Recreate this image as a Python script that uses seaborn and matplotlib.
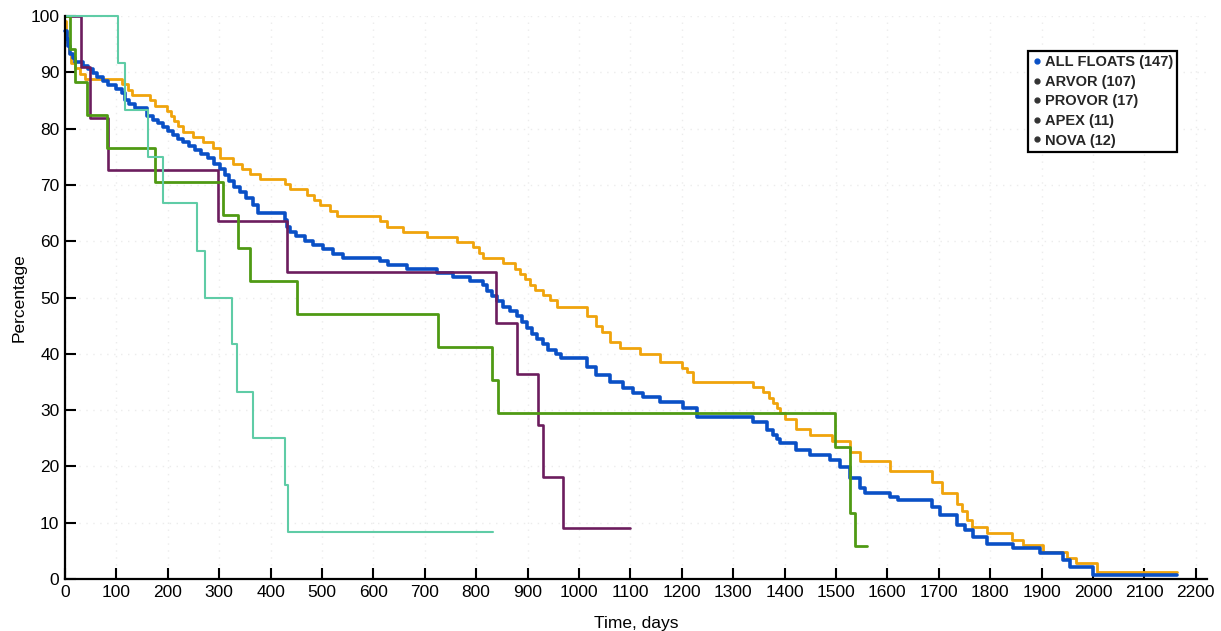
import numpy as np
import pandas as pd
import matplotlib
matplotlib.use("Agg")
import matplotlib.pyplot as plt
import seaborn as sns
from matplotlib.lines import Line2D

sns.set_theme(style="white")
plt.rcParams['font.family'] = ['Liberation Sans', 'DejaVu Sans']

# ---------------- data ----------------
all_days = [0, 3, 6, 10, 15, 20, 35, 45, 55, 62, 74, 84, 100, 110, 117, 125, 136, 159, 171, 180,
            190, 200, 210, 220, 230, 242, 252, 265, 278, 290, 301, 311, 320, 328, 340, 353, 366, 376,
            428, 432, 438, 450, 467, 483, 502, 522, 540, 613, 628, 665, 723, 755, 788, 814, 822, 830,
            840, 852, 866, 879, 890, 898, 908, 918, 930, 940, 955, 965, 1015, 1034, 1060, 1086, 1105,
            1125, 1158, 1203, 1229, 1339, 1365, 1378, 1385, 1391, 1423, 1449, 1488, 1508, 1527, 1547,
            1556, 1605, 1621, 1686, 1702, 1735, 1751, 1767, 1793, 1845, 1897, 1942, 1955, 2000, 2163]
all_pct = [97.3, 95.9, 94.6, 93.2, 92.5, 91.8, 91.2, 90.5, 89.8, 89.1, 88.4, 87.8, 87.1, 86.4, 85.0,
           84.4, 83.7, 82.3, 81.6, 81.0, 80.3, 79.6, 78.9, 78.2, 77.6, 76.9, 76.2, 75.5, 74.8, 73.8,
           72.9, 71.8, 70.7, 69.7, 68.7, 67.6, 66.4, 65.0, 63.8, 62.6, 61.7, 60.9, 60.1, 59.4, 58.6,
           57.8, 57.1, 56.5, 55.8, 55.1, 54.4, 53.7, 52.9, 52.2, 51.2, 50.3, 49.3, 48.4, 47.6, 46.7,
           45.6, 44.6, 43.6, 42.6, 41.7, 40.7, 39.9, 39.2, 37.7, 36.2, 35.0, 33.9, 33.0, 32.4, 31.5,
           30.3, 28.8, 27.9, 26.5, 25.6, 24.8, 24.1, 22.9, 22.0, 21.1, 19.9, 17.9, 16.1, 15.2, 14.6,
           14.0, 12.8, 11.4, 9.6, 8.7, 7.5, 6.3, 5.5, 4.6, 3.4, 2.2, 0.7, 0.7]

arvor_days = [0, 2, 4, 7, 12, 20, 30, 38, 110, 122, 130, 165, 175, 198, 207, 213, 220, 230, 249, 269,
              288, 301, 327, 345, 360, 380, 428, 438, 470, 484, 496, 516, 529, 613, 626, 658, 704, 762,
              794, 805, 814, 853, 875, 885, 895, 905, 915, 930, 943, 958, 1015, 1034, 1045, 1060, 1080,
              1119, 1158, 1200, 1210, 1222, 1339, 1358, 1370, 1378, 1385, 1391, 1400, 1423, 1449, 1492,
              1527, 1547, 1605, 1686, 1706, 1735, 1745, 1755, 1765, 1793, 1842, 1864, 1903, 1949, 1968,
              2007, 2163]
arvor_pct = [99.1, 97.2, 95.3, 93.5, 91.6, 90.7, 89.7, 88.8, 87.9, 86.9, 86.0, 85.0, 84.1, 83.2, 82.2,
             81.3, 80.4, 79.4, 78.5, 77.6, 76.6, 74.8, 73.8, 72.9, 72.0, 71.0, 70.1, 69.2, 68.2, 67.3,
             66.4, 65.4, 64.5, 63.6, 62.6, 61.7, 60.7, 59.8, 58.9, 57.9, 57.0, 56.1, 55.1, 54.2, 53.3,
             52.3, 51.4, 50.5, 49.5, 48.3, 46.7, 44.9, 43.9, 42.1, 41.1, 40.0, 38.6, 37.4, 36.8, 35.0,
             34.1, 33.2, 32.2, 31.3, 30.4, 29.4, 28.5, 26.6, 25.5, 24.5, 22.6, 21.0, 19.2, 17.2, 15.3,
             13.4, 12.0, 10.5, 9.3, 8.1, 6.9, 6.0, 4.8, 3.7, 2.8, 1.3, 1.3]

provor_days = [0, 10, 19, 43, 82, 175, 308, 337, 360, 451, 726, 830, 842, 1498, 1527, 1537, 1560]
provor_pct = [100, 94.1, 88.2, 82.4, 76.5, 70.6, 64.7, 58.8, 52.9, 47.1, 41.2, 35.3, 29.4, 23.5,
              11.8, 5.9, 5.9]

apex_days = [0, 31, 48, 84, 298, 432, 839, 879, 920, 930, 969, 1099]
apex_pct = [100, 90.9, 81.8, 72.7, 63.6, 54.5, 45.5, 36.4, 27.3, 18.2, 9.1, 9.1]

nova_days = [0, 103, 117, 162, 191, 256, 272, 325, 335, 366, 428, 434, 833]
nova_pct = [100, 91.7, 83.3, 75.0, 66.7, 58.3, 50.0, 41.7, 33.3, 25.0, 16.7, 8.3, 8.3]

legend_labels = ["ALL FLOATS (147)", "ARVOR (107)", "PROVOR (17)", "APEX (11)", "NOVA (12)"]
x_ticks = list(range(0, 2201, 100))
y_ticks = list(range(0, 101, 10))

# ---------------- build table ----------------
series = [
    ("ARVOR (107)", arvor_days, arvor_pct),
    ("ALL FLOATS (147)", all_days, all_pct),
    ("APEX (11)", apex_days, apex_pct),
    ("PROVOR (17)", provor_days, provor_pct),
    ("NOVA (12)", nova_days, nova_pct),
]
df = pd.concat([pd.DataFrame({"day": d, "pct": p, "series": n}) for n, d, p in series],
               ignore_index=True)

styles = {
    "ARVOR (107)": dict(color="#f0a40c", lw=2.0, z=3),
    "ALL FLOATS (147)": dict(color="#0a50c6", lw=2.6, z=4),
    "APEX (11)": dict(color="#6c1d5e", lw=1.9, z=5),
    "PROVOR (17)": dict(color="#4f9a14", lw=2.0, z=6),
    "NOVA (12)": dict(color="#5fcca6", lw=1.5, z=7),
}

W, H = 1221, 631
fig = plt.figure(figsize=(W / 100, H / 100), dpi=100)
ax = fig.add_axes([65 / W, 52 / H, (1207 - 65) / W, (579 - 16) / H])

for name, _, _ in series:
    st = styles[name]
    sub = df[df["series"] == name]
    sns.lineplot(data=sub, x="day", y="pct", ax=ax, color=st["color"], linewidth=st["lw"],
                 drawstyle="steps-post", estimator=None, legend=False, zorder=st["z"],
                 clip_on=False)

ax.set_xlim(0, 2222)
ax.set_ylim(0, 100)
ax.set_xticks(x_ticks)
ax.set_yticks(y_ticks)
ax.tick_params(direction="in", length=8, width=1.5, labelsize=12.5, colors="black",
               bottom=True, left=True, pad=4)
for s in ["top", "right"]:
    ax.spines[s].set_visible(False)
for s in ["left", "bottom"]:
    ax.spines[s].set_color("black")
    ax.spines[s].set_linewidth(1.6)
    ax.spines[s].set_zorder(10)
ax.grid(True, color="#ececec", linestyle=(0, (1, 4)), linewidth=1.0)
ax.set_axisbelow(True)

ax.set_xlabel("Time, days", fontsize=12.5, color="black", labelpad=12)
ax.set_ylabel("Percentage", fontsize=12.5, color="black", labelpad=3)

legend_colors = ["#0a50c6", "#333333", "#333333", "#333333", "#333333"]
handles = [Line2D([], [], marker="o", linestyle="none", color=c, markersize=3.5)
           for c in legend_colors]
leg = fig.legend(handles, legend_labels, loc="upper left",
                 bbox_to_anchor=(1028 / W, 1 - 51 / H), frameon=True, fancybox=False,
                 framealpha=1, edgecolor="black", handlelength=0.6, handletextpad=0.25,
                 borderpad=0.3, labelspacing=0.38, borderaxespad=0,
                 prop=dict(size=10.5, weight="bold"))
leg.get_frame().set_linewidth(1.6)

fig.savefig("out.png", dpi=100)
